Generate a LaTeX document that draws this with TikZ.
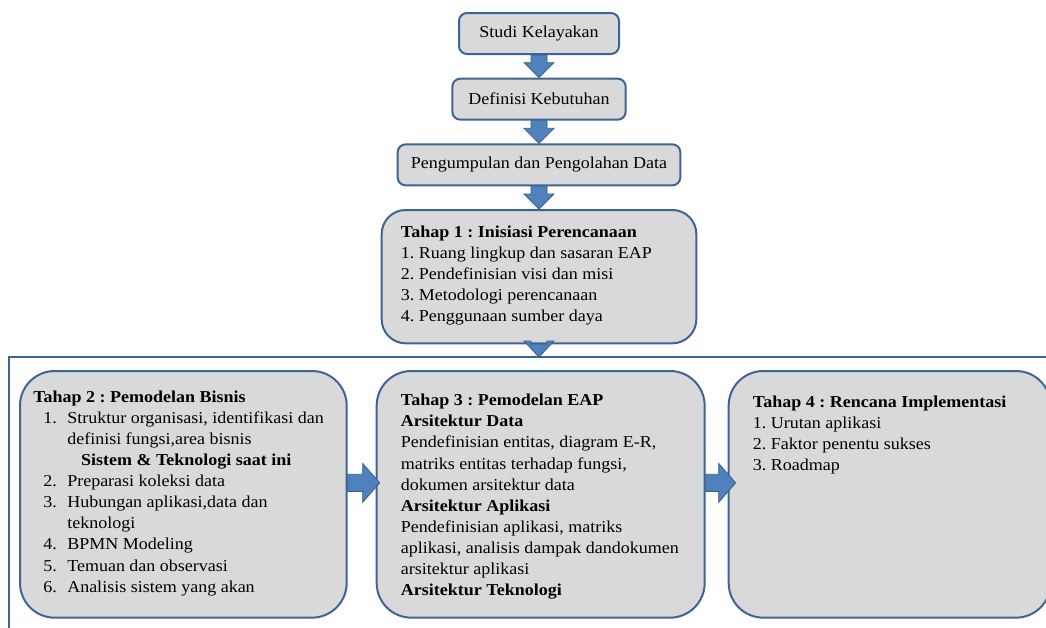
\documentclass[tikz,border=0pt]{standalone}
\usepackage{fontspec}
\setmainfont{Liberation Serif}[FakeStretch=1.08]
\usepackage{tikz}
\usetikzlibrary{positioning, calc}
\definecolor{boxgray}{RGB}{217,217,217}
\definecolor{boxblue}{RGB}{62,100,150}
\definecolor{arrowblue}{RGB}{79,129,189}
\definecolor{arrowline}{RGB}{56,93,138}
\newcommand{\stagefont}{\fontsize{12.5}{15.8}\selectfont\frenchspacing}
\newcommand{\itm}[1]{\makebox[18pt][l]{#1}}

\begin{document}
\begin{tikzpicture}[
  x=0.75pt, y=-0.75pt,
  node distance = 17pt and 21pt,
  box/.style       = {rectangle, rounded corners=6pt, draw=boxblue, line width=1.5pt,
                      fill=boxgray, minimum height=30.75pt, align=center,
                      font=\stagefont, inner sep=0pt},
  stagebox/.style  = {box, rounded corners=26pt, minimum width=245pt, minimum height=185pt},
  stagetext/.style = {align=left, font=\stagefont, inner sep=0pt},
  frameline/.style = {draw=boxblue, line width=1.5pt},
  blockarrow/.style n args={3}{fill=arrowblue, draw=arrowline, line width=0.6pt,
    to path={let \p1=($(\tikztotarget)!#3!(\tikztostart)$) in
      ($(\tikztostart)!#1!90:(\tikztotarget)$)
      -- ($(\p1)!#1!90:(\tikztotarget)$)
      -- ($(\p1)!#2!90:(\tikztotarget)$)
      -- (\tikztotarget)
      -- ($(\p1)!#2!-90:(\tikztotarget)$)
      -- ($(\p1)!#1!-90:(\tikztotarget)$)
      -- ($(\tikztostart)!#1!-90:(\tikztotarget)$) -- cycle}},
]

\useasboundingbox (0,0) rectangle (1046,628);

%% --- Outer frame ---
\coordinate (framecorner) at (9,357);
\draw[frameline] (1060,357) -| (9,640);

%% --- Top column ---
\node[box, minimum width=120pt, anchor=north] (studi) at (539,12) {Studi Kelayakan};
\node[box, minimum width=130pt, below=of studi]       (kebutuhan)   {Definisi Kebutuhan};
\node[box, minimum width=212pt, below=of kebutuhan]   (pengumpulan) {Pengumpulan dan Pengolahan Data};
\node[box, rounded corners=18pt, minimum width=236pt, minimum height=100pt,
      below=of pengumpulan] (inisiasi) {};

%% --- Stage row ---
\node[stagebox, anchor=north west] (bisnis) at (19,370) {};
\node[stagebox, minimum width=246pt, right=21pt of bisnis]       (eap)          {};
\node[stagebox, minimum width=241.5pt, right=16.5pt of eap]      (implementasi) {};

%% --- Stage texts ---
\node[stagetext, below right=12.5pt and 15pt of inisiasi.north west] (inisiasitxt) {%
  \textbf{Tahap 1 : Inisiasi Perencanaan}\\
  1. Ruang lingkup dan sasaran EAP\\
  2. Pendefinisian visi dan misi\\
  3. Metodologi perencanaan\\
  4. Penggunaan sumber daya};
\node[stagetext, below right=15.5pt and 10.5pt of bisnis.north west] (bisnistxt) {%
  \textbf{Tahap 2 : Pemodelan Bisnis}\\
  \hspace*{7.5pt}\itm{1.}Struktur organisasi, identifikasi dan\\
  \hspace*{25.5pt}definisi fungsi,area bisnis\\
  \makebox[229.5pt]{\textbf{Sistem \& Teknologi saat ini}}\\
  \hspace*{7.5pt}\itm{2.}Preparasi koleksi data\\
  \hspace*{7.5pt}\itm{3.}Hubungan aplikasi,data dan\\
  \hspace*{25.5pt}teknologi\\
  \hspace*{7.5pt}\itm{4.}BPMN Modeling\\
  \hspace*{7.5pt}\itm{5.}Temuan dan observasi\\
  \hspace*{7.5pt}\itm{6.}Analisis sistem yang akan};
\node[stagetext, below right=18pt and 18.75pt of eap.north west] (eaptxt) {%
  \textbf{Tahap 3 : Pemodelan EAP}\\
  \textbf{Arsitektur Data}\\
  Pendefinisian entitas, diagram E-R,\\
  matriks entitas terhadap fungsi,\\
  dokumen arsitektur data\\
  \textbf{Arsitektur Aplikasi}\\
  Pendefinisian aplikasi, matriks\\
  aplikasi, analisis dampak dandokumen\\
  arsitektur aplikasi\\
  \textbf{Arsitektur Teknologi}};
\node[stagetext, below right=19pt and 18.75pt of implementasi.north west] (implementasitxt) {%
  \textbf{Tahap 4 : Rencana Implementasi}\\
  1. Urutan aplikasi\\
  2. Faktor penentu sukses\\
  3. Roadmap};

%% --- Arrows ---
\draw[blockarrow={6pt}{11.25pt}{11.25pt}] (studi.south) to (kebutuhan.north);
\draw[blockarrow={6pt}{11.25pt}{11.25pt}] (kebutuhan.south) to (pengumpulan.north);
\draw[blockarrow={6pt}{11.25pt}{11.25pt}] (pengumpulan.south) to (inisiasi.north);
\draw[blockarrow={6pt}{11.25pt}{12pt}] (inisiasi.south) to (inisiasi.south |- framecorner);
\draw[blockarrow={6.4pt}{14.6pt}{12.75pt}] ([yshift=8.6pt]bisnis.east) to ([xshift=3pt,yshift=8.6pt]eap.west);
\draw[blockarrow={6.4pt}{14.6pt}{12.75pt}] ([yshift=8.6pt]eap.east) to ([xshift=6pt,yshift=8.6pt]implementasi.west);

\end{tikzpicture}
\end{document}
